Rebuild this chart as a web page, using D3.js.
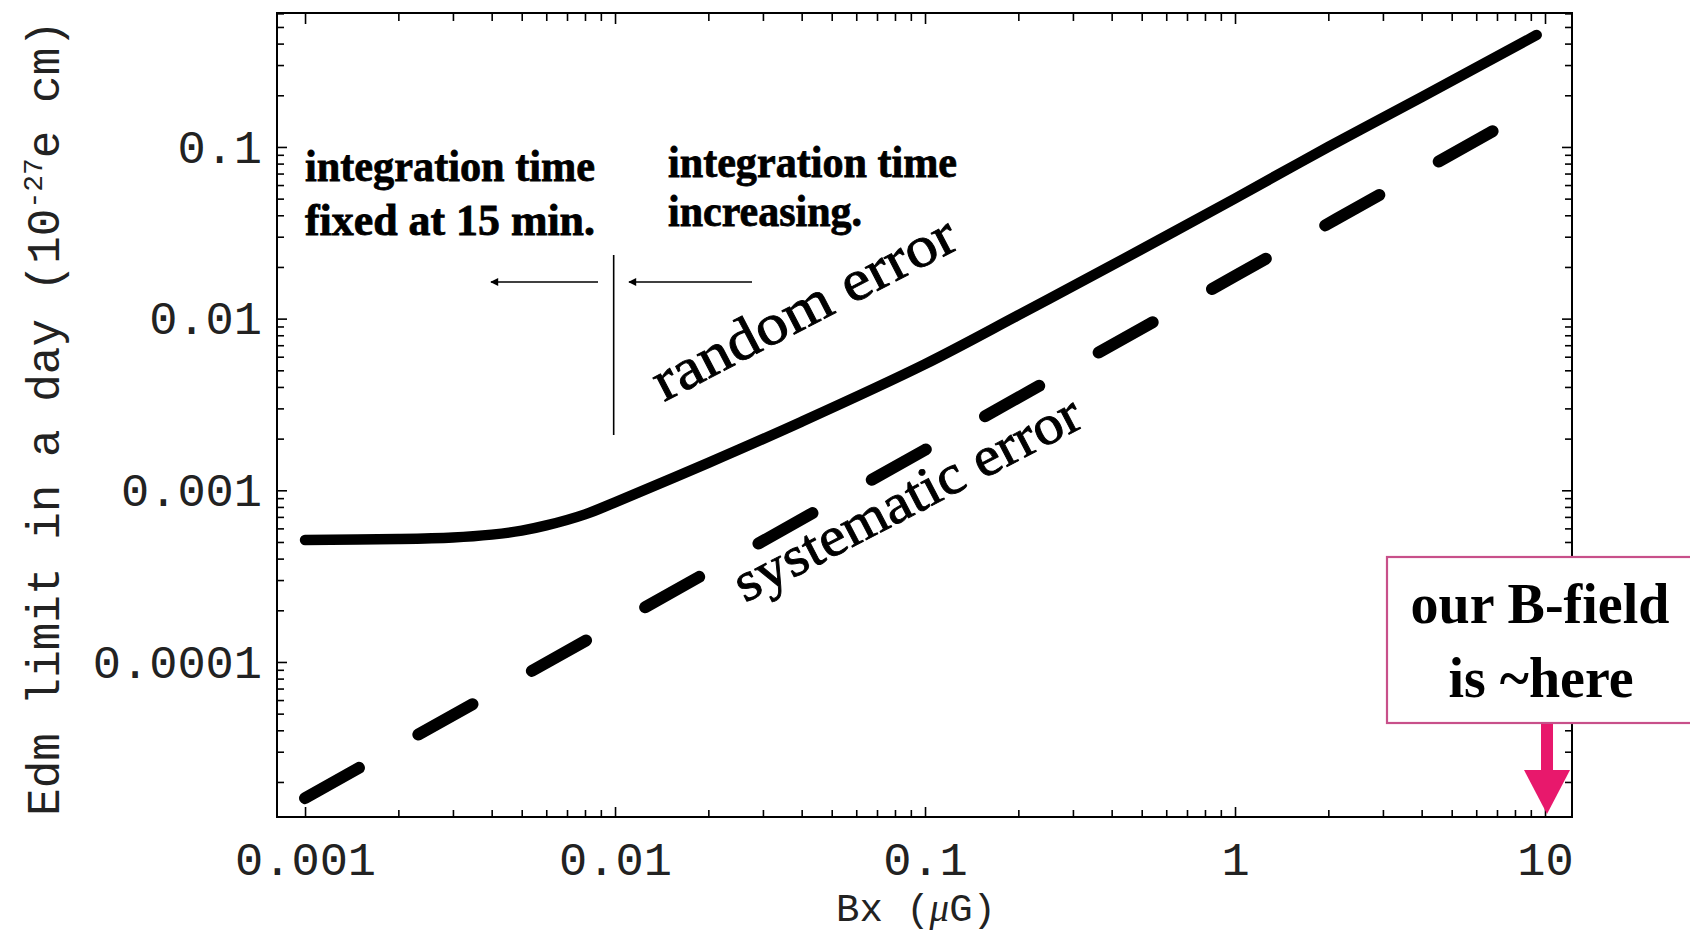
<html>
<head>
<style>
body { margin: 0; background: #fff; }
.tick text { font: 47px "Liberation Mono", monospace; fill: #222; }
.tick line { stroke: #000; stroke-width: 1.6; }
.note { font-family: "Liberation Serif", serif; font-weight: bold; fill: #000; }
.curve-label { font-family: "Liberation Serif", serif; fill: #000; stroke: #000; stroke-width: 0.9; }
</style>
<script src="https://d3js.org/d3.v7.min.js"></script>
</head>
<body>
<script>
// values
var bx = [0.001, 0.002, 0.003, 0.004, 0.005, 0.006, 0.008, 0.01, 0.02, 0.04, 0.1, 0.2, 0.4, 1, 2, 4, 9.4];
var randomError = [5.14e-4, 5.2e-4, 5.31e-4, 5.52e-4, 5.82e-4, 6.24e-4, 7.24e-4, 8.51e-4, 1.445e-3, 2.51e-3, 5.43e-3, 0.01047, 0.0204, 0.0501, 0.1, 0.195, 0.449];

var bxSys = [0.001, 0.01, 0.1, 1, 6.8];
var systematicError = [1.61e-5, 1.66e-4, 1.72e-3, 0.0177, 0.124];

var xTicks = [0.001, 0.01, 0.1, 1, 10];
var xTickLabels = ["0.001", "0.01", "0.1", "1", "10"];
var yTicks = [0.0001, 0.001, 0.01, 0.1];
var yTickLabels = ["0.0001", "0.001", "0.01", "0.1"];

var width = 1690, height = 936;
var pLeft = 277, pRight = 1572, pTop = 13, pBottom = 817; // window.top is taken, so prefixed

var svg = d3.select("body").append("svg")
	.attr("width", width)
	.attr("height", height);

var x = d3.scaleLog().domain([0.000812, 12.22]).range([pLeft, pRight]);
var y = d3.scaleLog().domain([1.25e-5, 0.603]).range([pBottom, pTop]);

// minor ticks at 2..9 of each decade
var xMinor = [], yMinor = [];
[0.001, 0.01, 0.1, 1].forEach(function(d) {
	for (var k = 2; k < 10; k++) xMinor.push(d * k);
});
[0.00001, 0.0001, 0.001, 0.01, 0.1].forEach(function(d) {
	for (var k = 2; k < 10; k++) if (d * k <= y.domain()[1] && d * k >= y.domain()[0]) yMinor.push(d * k);
});

function noDomain(g) { g.select(".domain").remove(); }

svg.append("g").attr("transform", "translate(0," + pBottom + ")")
	.call(d3.axisBottom(x).tickValues(xTicks).tickFormat(function(d, i) { return xTickLabels[i]; })
		.tickSizeInner(-10).tickSizeOuter(0).tickPadding(25))
	.call(noDomain);
svg.append("g").attr("transform", "translate(0," + pBottom + ")")
	.call(d3.axisBottom(x).tickValues(xMinor).tickFormat("").tickSizeInner(-7).tickSizeOuter(0))
	.call(noDomain);
svg.append("g").attr("transform", "translate(0," + pTop + ")")
	.call(d3.axisTop(x).tickValues(xTicks).tickFormat("").tickSizeInner(-11).tickSizeOuter(0))
	.call(noDomain);
svg.append("g").attr("transform", "translate(0," + pTop + ")")
	.call(d3.axisTop(x).tickValues(xMinor).tickFormat("").tickSizeInner(-8).tickSizeOuter(0))
	.call(noDomain);

svg.append("g").attr("transform", "translate(" + pLeft + ",0)")
	.call(d3.axisLeft(y).tickValues(yTicks).tickFormat(function(d, i) { return yTickLabels[i]; })
		.tickSizeInner(-10).tickSizeOuter(0).tickPadding(15))
	.call(noDomain);
svg.append("g").attr("transform", "translate(" + pLeft + ",0)")
	.call(d3.axisLeft(y).tickValues(yMinor).tickFormat("").tickSizeInner(-7).tickSizeOuter(0))
	.call(noDomain);
svg.append("g").attr("transform", "translate(" + pRight + ",0)")
	.call(d3.axisRight(y).tickValues(yTicks).tickFormat("").tickSizeInner(-10).tickSizeOuter(0))
	.call(noDomain);
svg.append("g").attr("transform", "translate(" + pRight + ",0)")
	.call(d3.axisRight(y).tickValues(yMinor).tickFormat("").tickSizeInner(-7).tickSizeOuter(0))
	.call(noDomain);

// frame
svg.append("rect")
	.attr("x", pLeft).attr("y", pTop)
	.attr("width", pRight - pLeft).attr("height", pBottom - pTop)
	.attr("fill", "none").attr("stroke", "#000").attr("stroke-width", 2);

// curves
var line = d3.line()
	.x(function(d) { return x(d[0]); })
	.y(function(d) { return y(d[1]); })
	.curve(d3.curveCatmullRom.alpha(0.5));

svg.append("path")
	.datum(d3.zip(bx, randomError))
	.attr("d", line)
	.attr("fill", "none").attr("stroke", "#000")
	.attr("stroke-width", 10.5).attr("stroke-linecap", "round").attr("stroke-linejoin", "round");

svg.append("path")
	.datum(d3.zip(bxSys, systematicError))
	.attr("d", line)
	.attr("fill", "none").attr("stroke", "#000")
	.attr("stroke-width", 12).attr("stroke-linecap", "round")
	.attr("stroke-dasharray", "62,68");

// axis titles
svg.append("text")
	.attr("transform", "translate(59,418) rotate(-90)")
	.attr("text-anchor", "middle")
	.style("font", "46px 'Liberation Mono', monospace").style("fill", "#222")
	.call(function(t) {
		t.append("tspan").text("Edm limit in a day (10");
		t.append("tspan").attr("dy", -17).style("font-size", "28px").text("-27");
		t.append("tspan").attr("dy", 17).text("e cm)");
	});

svg.append("text")
	.attr("x", 916).attr("y", 921)
	.attr("text-anchor", "middle")
	.style("font", "39px 'Liberation Mono', monospace").style("fill", "#222")
	.call(function(t) {
		t.append("tspan").text("Bx (");
		t.append("tspan").style("font-family", "'Liberation Serif', serif").style("font-style", "italic").text("\u03bc");
		t.append("tspan").text("G)");
	});

// notes about integration time
var notes = [
	{ t: "integration time", x: 305, y: 181, w: 290 },
	{ t: "fixed at 15 min.", x: 305, y: 235, w: 290 },
	{ t: "integration time", x: 668, y: 177, w: 289 },
	{ t: "increasing.", x: 668, y: 226, w: 194 }
];
svg.selectAll("text.note").data(notes).enter().append("text")
	.attr("class", "note")
	.attr("x", function(d) { return d.x; })
	.attr("y", function(d) { return d.y; })
	.attr("textLength", function(d) { return d.w; })
	.attr("lengthAdjust", "spacingAndGlyphs")
	.style("font-size", "44px")
	.style("stroke", "#000").style("stroke-width", 0.8)
	.text(function(d) { return d.t; });

svg.append("defs").append("marker")
	.attr("id", "head")
	.attr("viewBox", "0 0 10 10")
	.attr("refX", 9).attr("refY", 5)
	.attr("markerWidth", 10).attr("markerHeight", 8)
	.attr("markerUnits", "userSpaceOnUse")
	.attr("orient", "auto")
	.append("path").attr("d", "M0,0 L10,5 L0,10 Z").attr("fill", "#000");

svg.append("line")
	.attr("x1", x(0.0099)).attr("x2", x(0.0099))
	.attr("y1", 255).attr("y2", 435)
	.attr("stroke", "#000").attr("stroke-width", 1.6);
svg.append("line")
	.attr("x1", 598).attr("y1", 282).attr("x2", 491).attr("y2", 282)
	.attr("stroke", "#000").attr("stroke-width", 1.6).attr("marker-end", "url(#head)");
svg.append("line")
	.attr("x1", 752).attr("y1", 282).attr("x2", 629).attr("y2", 282)
	.attr("stroke", "#000").attr("stroke-width", 1.6).attr("marker-end", "url(#head)");

// curve labels
svg.append("text")
	.attr("class", "curve-label")
	.attr("transform", "translate(664,402) rotate(-27.5)")
	.attr("textLength", 335).attr("lengthAdjust", "spacingAndGlyphs")
	.style("font-size", "58px")
	.text("random error");
svg.append("text")
	.attr("class", "curve-label")
	.attr("transform", "translate(745,603) rotate(-27.5)")
	.attr("textLength", 384).attr("lengthAdjust", "spacingAndGlyphs")
	.style("font-size", "56px")
	.text("systematic error");

// "our B-field is ~here" box and arrow
svg.append("rect")
	.attr("x", 1387).attr("y", 557)
	.attr("width", 330).attr("height", 166)
	.attr("fill", "#fff").attr("stroke", "#c8508a").attr("stroke-width", 2.2);
svg.append("text").attr("class", "note")
	.attr("x", 1540).attr("y", 623).attr("text-anchor", "middle")
	.style("font-size", "56px")
	.text("our B-field");
svg.append("text").attr("class", "note")
	.attr("x", 1541).attr("y", 697).attr("text-anchor", "middle")
	.style("font-size", "56px")
	.text("is ~here");

var ax = x(10) + 2;
svg.append("rect")
	.attr("x", ax - 6).attr("y", 724)
	.attr("width", 12).attr("height", 48)
	.attr("fill", "#e8186c");
svg.append("path")
	.attr("d", "M" + (ax - 23) + ",770 L" + (ax + 23) + ",770 L" + ax + "," + (pBottom - 3) + " Z")
	.attr("fill", "#e8186c");
</script>
</body>
</html>
